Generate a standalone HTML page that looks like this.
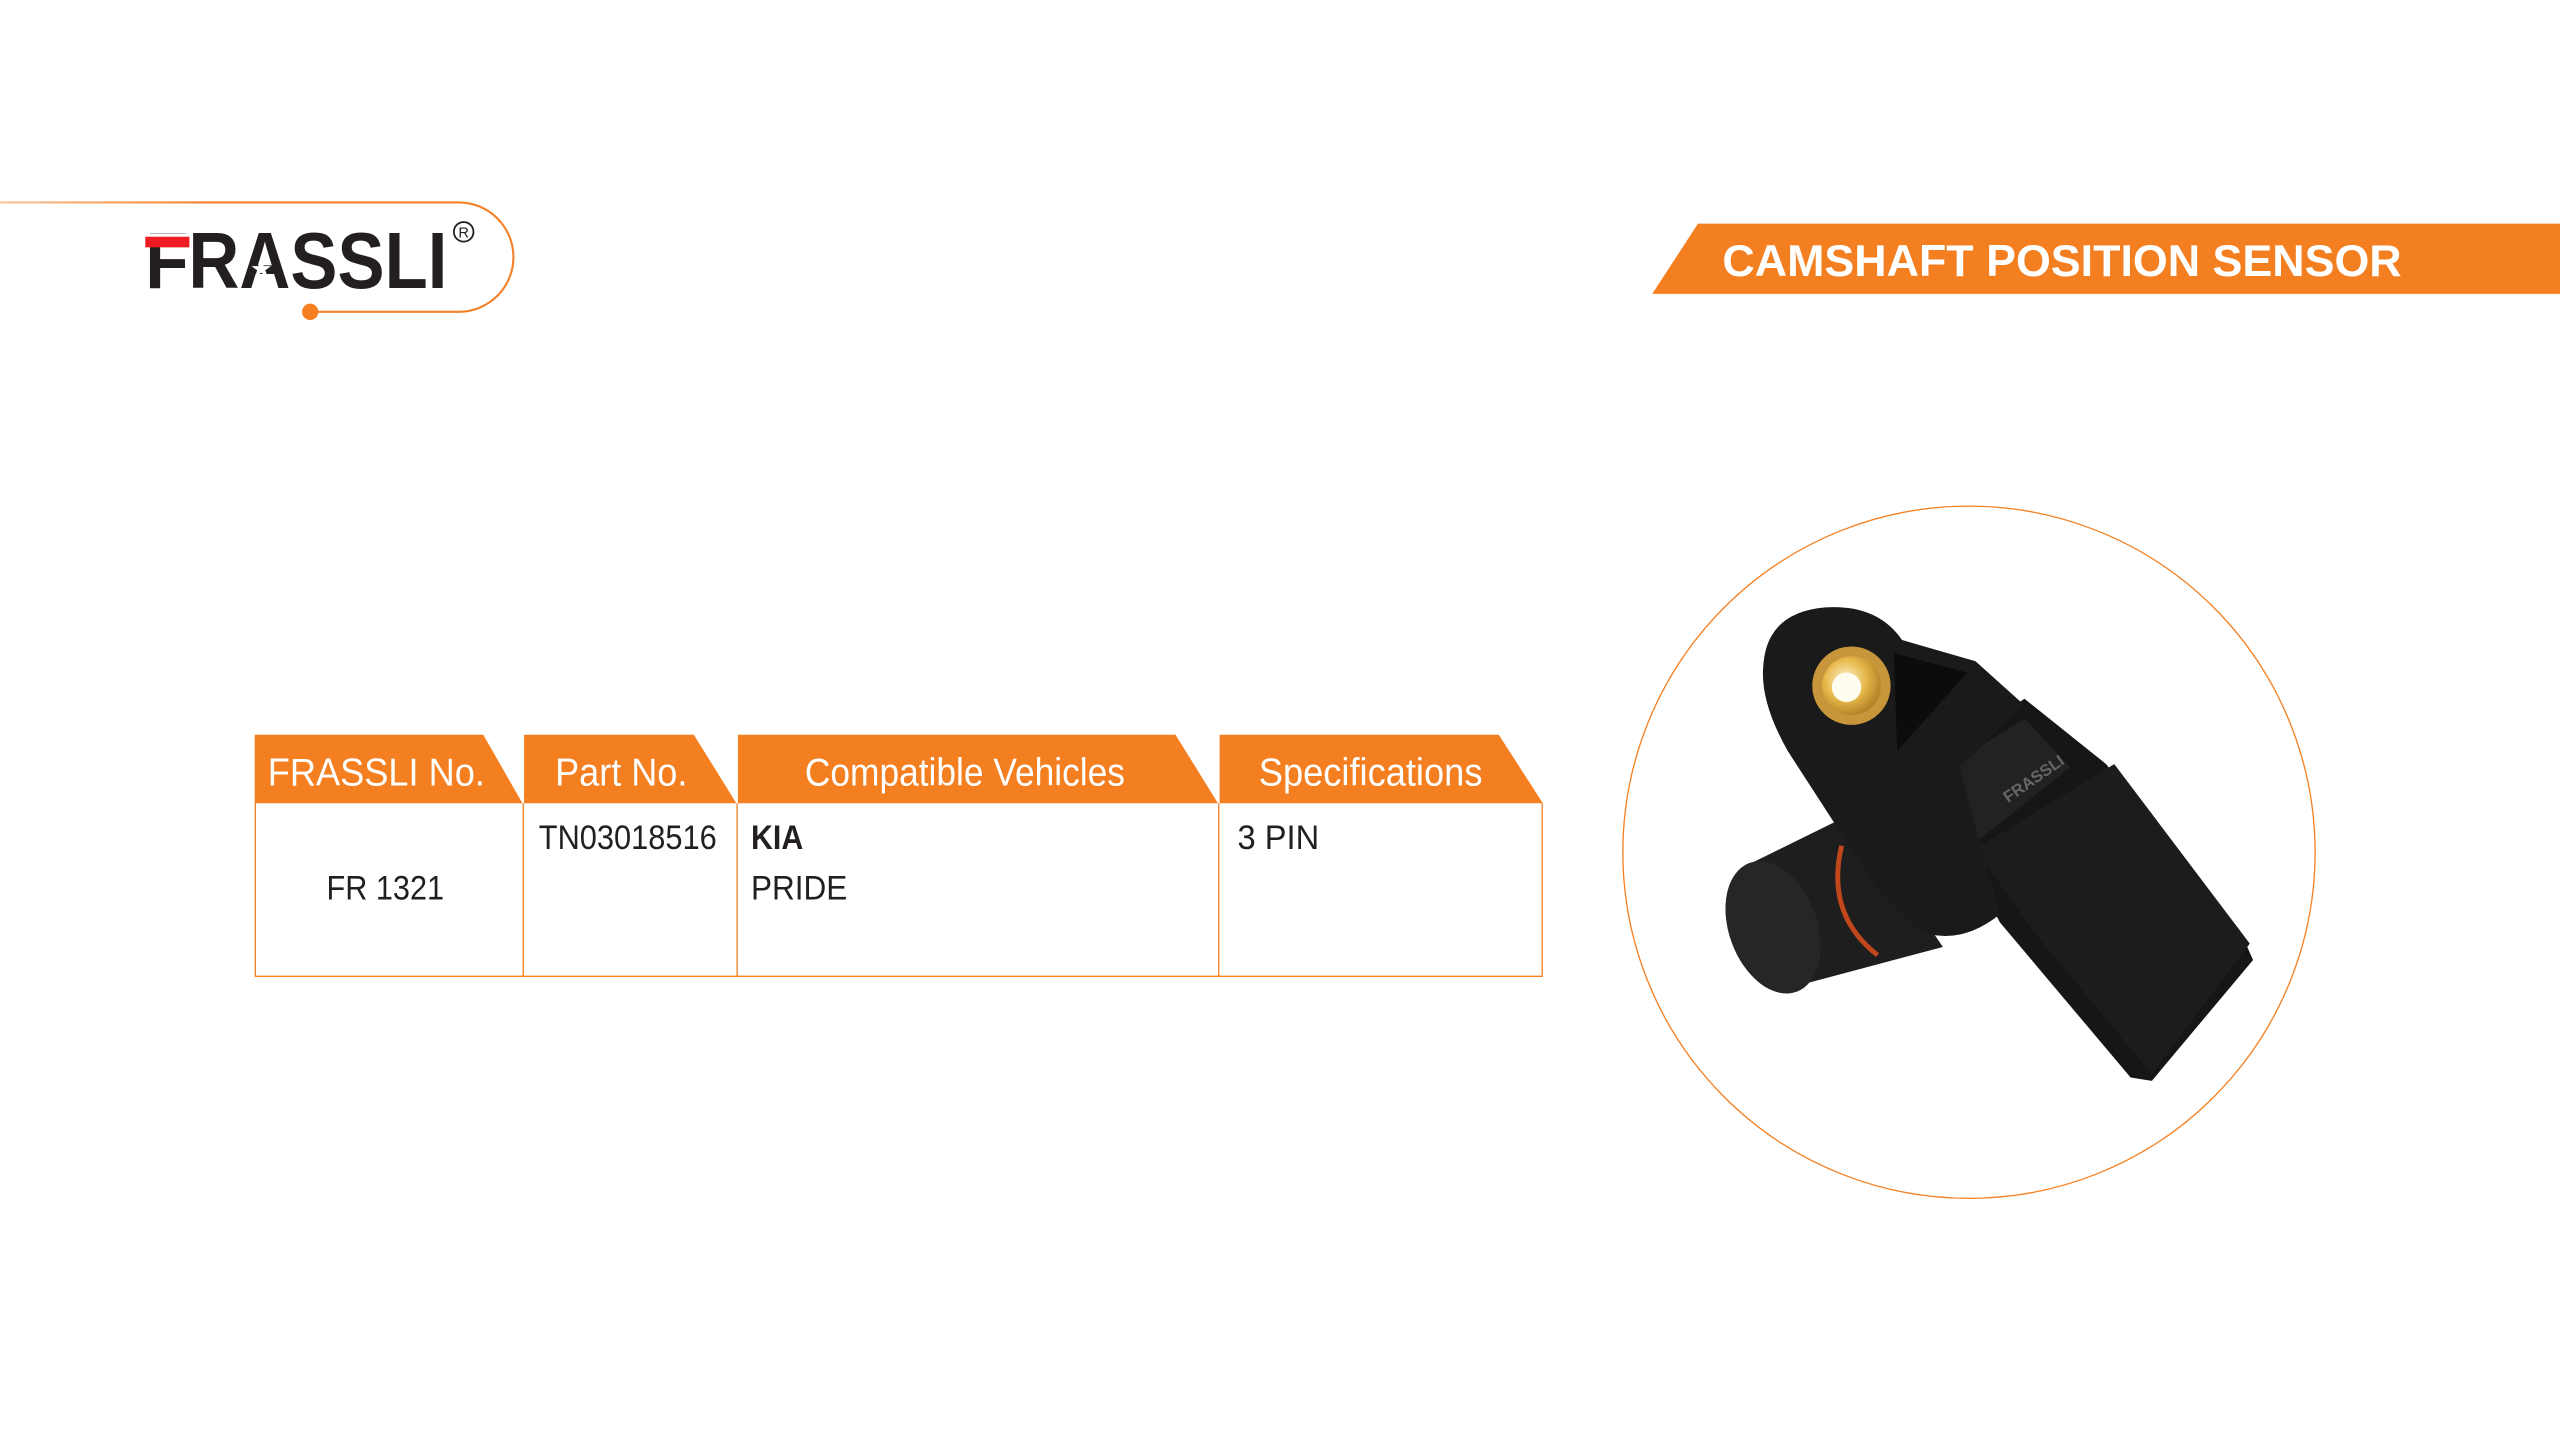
<!DOCTYPE html>
<html><head><meta charset="utf-8"><style>
html,body{margin:0;padding:0;background:#fff;}
svg{display:block;}
</style></head><body>
<svg width="2560" height="1440" viewBox="0 0 1568 882" xmlns="http://www.w3.org/2000/svg">
<defs>
<linearGradient id="lg" x1="0" x2="1" y1="0" y2="0">
<stop offset="0" stop-color="#f8c49a"/><stop offset="0.4" stop-color="#f5822a"/><stop offset="1" stop-color="#f5822a"/>
</linearGradient>
<radialGradient id="brass" cx="0.4" cy="0.4" r="0.7">
<stop offset="0" stop-color="#fff6d0"/><stop offset="0.5" stop-color="#e6b84a"/><stop offset="1" stop-color="#a4731c"/>
</radialGradient>
</defs>
<rect width="1568" height="882" fill="#fff"/>

<!-- logo frame -->
<path d="M0,124 H281 A33.5,33.5 0 0 1 281,191 H190" fill="none" stroke="url(#lg)" stroke-width="1.3"/>
<circle cx="190" cy="191" r="5" fill="#f47f20"/>
<text x="89" y="176.5" font-family="Liberation Sans, sans-serif" font-weight="bold" font-size="49" fill="#231f20" textLength="185" lengthAdjust="spacingAndGlyphs">FRASSLI</text>
<rect x="88" y="143" width="28" height="8" fill="#fff"/>
<rect x="89" y="145" width="27" height="6.5" fill="#ed1c24"/>
<polygon points="160,159 161.5,163 166,163 162.5,165.5 164,170 160,167 156,170 157.5,165.5 154,163 158.5,163" fill="#fff"/>
<circle cx="284" cy="142" r="6" fill="none" stroke="#231f20" stroke-width="1.1"/>
<text x="284" y="145.5" text-anchor="middle" font-family="Liberation Sans, sans-serif" font-size="9" fill="#231f20">R</text>

<!-- title banner -->
<polygon points="1040,137 1568,137 1568,180 1012,180" fill="#f47f20"/>
<text x="1055" y="169" font-family="Liberation Sans, sans-serif" font-weight="bold" font-size="27" fill="#fff" textLength="416" lengthAdjust="spacingAndGlyphs">CAMSHAFT POSITION SENSOR</text>

<!-- table -->
<g fill="#f47f20">
<polygon points="156,450 296,450 320,492 156,492"/>
<polygon points="321,450 425,450 451,492 321,492"/>
<polygon points="452,450 720,450 746,492 452,492"/>
<polygon points="747,450 918,450 945,492 747,492"/>
</g>
<g stroke="#f47f20" stroke-width="0.8" fill="none">
<path d="M156.4,492 V598 H944.6 V492"/>
<line x1="320.5" y1="492" x2="320.5" y2="598"/>
<line x1="451.5" y1="492" x2="451.5" y2="598"/>
<line x1="746.5" y1="492" x2="746.5" y2="598"/>
</g>
<g font-family="Liberation Sans Narrow, Liberation Sans, sans-serif" font-size="24" fill="#fff">
<text x="164" y="481" textLength="133" lengthAdjust="spacingAndGlyphs">FRASSLI No.</text>
<text x="340" y="481" textLength="81" lengthAdjust="spacingAndGlyphs">Part No.</text>
<text x="493" y="481" textLength="196" lengthAdjust="spacingAndGlyphs">Compatible Vehicles</text>
<text x="771" y="481" textLength="137" lengthAdjust="spacingAndGlyphs">Specifications</text>
</g>
<g font-family="Liberation Sans Narrow, Liberation Sans, sans-serif" font-size="21" fill="#231f20">
<text x="200" y="551" textLength="72" lengthAdjust="spacingAndGlyphs">FR 1321</text>
<text x="330" y="520" textLength="109" lengthAdjust="spacingAndGlyphs">TN03018516</text>
<text x="460" y="520" font-weight="bold" textLength="32" lengthAdjust="spacingAndGlyphs">KIA</text>
<text x="460" y="551" textLength="59" lengthAdjust="spacingAndGlyphs">PRIDE</text>
<text x="758" y="520" textLength="50" lengthAdjust="spacingAndGlyphs">3 PIN</text>
</g>

<!-- product circle -->
<circle cx="1206" cy="522" r="212" fill="none" stroke="#f47f20" stroke-width="0.8"/>

<!-- sensor -->
<g>
<!-- cylinder -->
<path d="M1070,530 L1135,498 L1190,580 L1100,604 Z" fill="#1e1e1e"/>
<ellipse cx="1086" cy="568" rx="27" ry="42" transform="rotate(-20 1086 568)" fill="#262626"/>
<path d="M1128,518 Q1118,560 1150,585" stroke="#c0461c" stroke-width="3" fill="none"/>
<!-- connector body -->
<polygon points="1175,470 1240,428 1290,468 1372,570 1380,588 1318,662 1305,660 1225,565" fill="#161616"/>
<polygon points="1180,478 1240,440 1268,470 1205,520" fill="#222"/>
<polygon points="1210,520 1295,468 1378,578 1318,658 1245,570" fill="#1c1c1c"/>
<text x="1230" y="492" font-family="Liberation Sans, sans-serif" font-weight="bold" font-size="10" fill="#666" transform="rotate(-35 1230 492)">FRASSLI</text>
<!-- flange -->
<path d="M1080,408 Q1082,375 1118,372 Q1150,370 1165,392 L1210,405 L1240,432 L1200,470 L1225,560 Q1200,580 1175,570 L1150,545 L1095,460 Q1078,430 1080,408 Z" fill="#1a1a1a"/>
<polygon points="1160,400 1205,412 1162,460" fill="#0c0c0c"/>
<circle cx="1134" cy="420" r="24" fill="#c8963a"/>
<circle cx="1134" cy="420" r="18" fill="url(#brass)"/>
<circle cx="1131" cy="421" r="9" fill="#fffdf0"/>
</g>
</svg>
</body></html>
